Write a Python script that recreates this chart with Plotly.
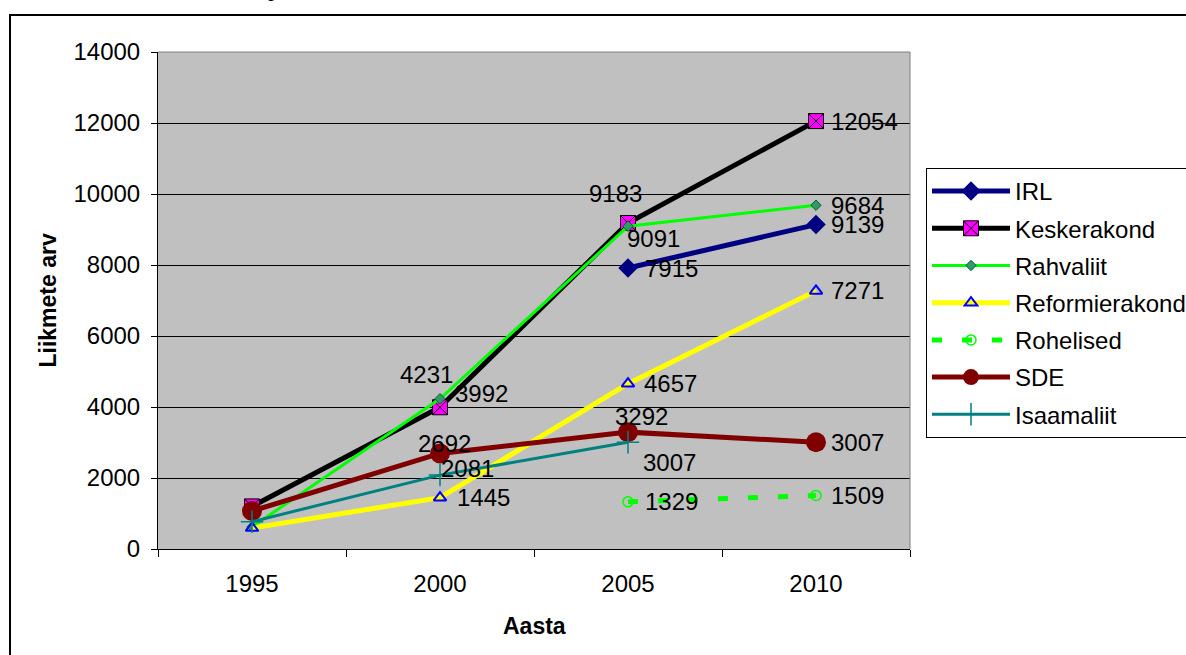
import plotly.graph_objects as go

years = ["1995", "2000", "2005", "2010"]
irl = [None, None, 7915, 9139]
keskerakond = [1200, 3992, 9183, 12054]
rahvaliit = [620, 4231, 9091, 9684]
reformierakond = [590, 1445, 4657, 7271]
rohelised = [None, None, 1329, 1509]
sde = [1070, 2692, 3292, 3007]
isaamaliit = [770, 2081, 3007, None]

y_ticks = [0, 2000, 4000, 6000, 8000, 10000, 12000, 14000]

# label placement (pixel shifts) per series/point: (dx, dy) or None for no label
label_shift = {
    "IRL": [None, None, (43, 0), (41, 0)],
    "Keskerakond": [None, (41, 14), (-13, 30), (48, 0)],
    "Rahvaliit": [None, (-14, 24), (25, -12), (41, 0)],
    "Reformierakond": [None, (43, 0), (42, 0), (41, 0)],
    "Rohelised": [None, None, (43, 0), (41, 0)],
    "SDE": [None, (4, 10), (13, 16), (41, 0)],
    "Isaamaliit": [None, (27, 7), (41, -20), None],
}

FONT = "Liberation Sans, Arial, sans-serif"

series = [
    dict(name="IRL", y=irl, line=dict(color="#000080", width=5),
         marker=dict(symbol="diamond", size=15, color="#000080")),
    dict(name="Keskerakond", y=keskerakond, line=dict(color="#000000", width=5),
         marker=dict(symbol="square-x", size=15, color="#FF00FF", line=dict(color="#000000", width=1))),
    dict(name="Rahvaliit", y=rahvaliit, line=dict(color="#00FF00", width=3),
         marker=dict(symbol="diamond", size=8, color="#339966", line=dict(color="#006633", width=1))),
    dict(name="Reformierakond", y=reformierakond, line=dict(color="#FFFF00", width=5),
         marker=dict(symbol="triangle-up-open", size=11, color="#0000FF", line=dict(color="#0000FF", width=2))),
    dict(name="Rohelised", y=rohelised, line=dict(color="#00FF00", width=5, dash="10px,20px"),
         marker=dict(symbol="circle-open", size=10, color="#00FF00", line=dict(color="#00FF00", width=1.5))),
    dict(name="SDE", y=sde, line=dict(color="#800000", width=5),
         marker=dict(symbol="circle", size=20, color="#800000")),
    dict(name="Isaamaliit", y=isaamaliit, line=dict(color="#008080", width=3),
         marker=dict(symbol="cross-thin-open", size=16, color="#008080", line=dict(color="#008080", width=1.5))),
]

fig = go.Figure()
annotations = []
for s in series:
    fig.add_trace(go.Scatter(
        x=years, y=s["y"], name=s["name"], mode="lines+markers",
        line=s["line"], marker=s["marker"], connectgaps=False,
        legendgroup=s["name"],
    ))
    for idx, (yv, sh) in enumerate(zip(s["y"], label_shift[s["name"]])):
        if yv is None or sh is None:
            continue
        annotations.append(dict(
            x=idx, y=yv, xref="x", yref="y", text=str(yv), showarrow=False,
            xanchor="center", yanchor="middle", xshift=sh[0], yshift=sh[1],
            font=dict(family=FONT, size=24, color="black"),
        ))

# axis titles
annotations.append(dict(text="<b>Aasta</b>", xref="paper", yref="paper", x=0.5, y=(549 - 626) / 497,
                        showarrow=False, xanchor="center", yanchor="middle",
                        font=dict(family=FONT, size=23, color="black")))
annotations.append(dict(text="<b>Liikmete arv</b>", xref="paper", yref="paper", x=(47 - 158) / 752, y=0.5,
                        showarrow=False, xanchor="center", yanchor="middle", textangle=-90,
                        font=dict(family=FONT, size=23, color="black")))
# cropped text above chart
annotations.append(dict(text="p", xref="paper", yref="paper", x=(274 - 158) / 752, y=(549 + 12) / 497,
                        showarrow=False, xanchor="center", yanchor="middle",
                        font=dict(family="Liberation Serif, serif", size=24, color="black")))

shapes = [
    dict(type="rect", xref="paper", yref="paper", x0=(10 - 158) / 752, x1=1.6,
         y0=-0.6, y1=(549 - 15) / 497, line=dict(color="black", width=2)),
    dict(type="line", xref="paper", yref="paper", x0=0, x1=1, y0=1, y1=1,
         line=dict(color="#808080", width=1)),
    dict(type="line", xref="paper", yref="paper", x0=1, x1=1, y0=0, y1=1,
         line=dict(color="#808080", width=1)),
]

fig.update_layout(
    width=1186, height=655,
    margin=dict(l=158, r=276, t=52, b=106, autoexpand=False),
    paper_bgcolor="white", plot_bgcolor="#C0C0C0",
    font=dict(family=FONT, size=24, color="black"),
    showlegend=True,
    legend=dict(x=(926 - 158) / 752, y=(549 - 168) / 497, xanchor="left", yanchor="top",
                bgcolor="white", bordercolor="black", borderwidth=1,
                font=dict(family=FONT, size=24, color="black"),
                itemwidth=78, tracegroupgap=3),
    annotations=annotations,
    shapes=shapes,
)
fig.update_xaxes(type="category", categoryorder="array", categoryarray=years,
                 range=[-0.5, 3.5], tickson="boundaries", ticks="outside", ticklen=7,
                 tickcolor="black", showline=True, linecolor="black", linewidth=1,
                 showgrid=False, tickfont=dict(size=24), ticklabelstandoff=13)
fig.update_yaxes(range=[0, 14000], tickvals=y_ticks, tickformat="d", ticks="outside", ticklen=6,
                 tickcolor="black", showline=True, linecolor="black", linewidth=1,
                 showgrid=True, gridcolor="black", gridwidth=1, zeroline=False,
                 tickfont=dict(size=24), ticklabelstandoff=6)

fig.write_html("out.html", config={"displayModeBar": False},
               post_script="document.body.style.margin='0';document.body.style.overflow='hidden';")
